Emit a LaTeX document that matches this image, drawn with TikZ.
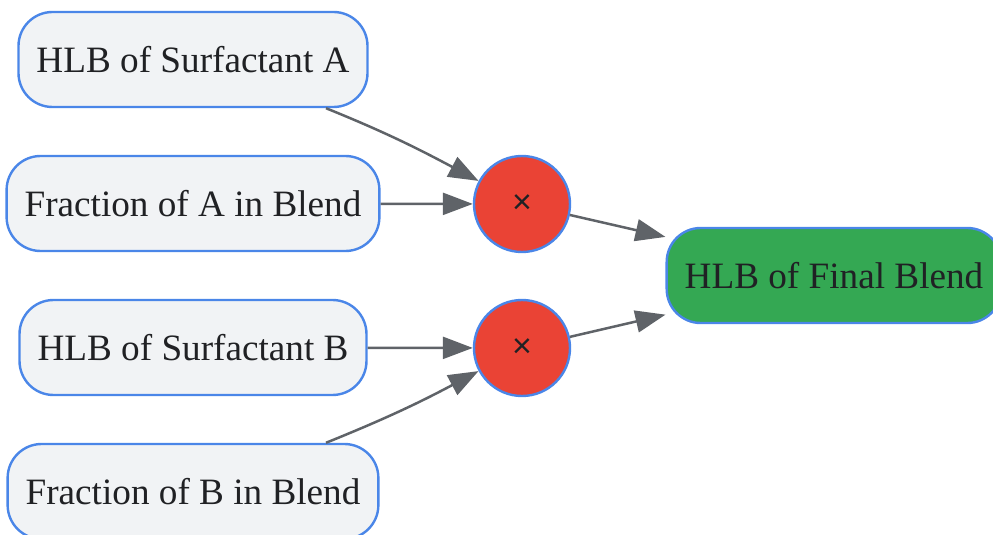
\documentclass[tikz,border=0pt]{standalone}
\usepackage{fontspec}
\setmainfont{Liberation Serif}
\setsansfont{Liberation Sans}
\usetikzlibrary{arrows.meta,positioning}
\definecolor{boxfill}{HTML}{F1F3F5}
\definecolor{boxline}{HTML}{4A86E8}
\definecolor{mulred}{HTML}{EA4335}
\definecolor{finalgreen}{HTML}{34A853}
\definecolor{edgegray}{HTML}{5F6368}
\definecolor{txt}{HTML}{202124}

\begin{document}
\begin{tikzpicture}[x=0.5pt, y=0.5pt,
    every node/.style={font=\fontsize{18.6}{22}\selectfont, text=txt},
    inbox/.style={draw=boxline, line width=1.2pt, fill=boxfill, rounded corners=17pt, minimum height=47.5pt, inner xsep=9pt},
    mul/.style={circle, draw=boxline, line width=1.2pt, fill=mulred, minimum size=48pt, inner sep=0pt},
    outbox/.style={draw=boxline, line width=1.2pt, fill=finalgreen, rounded corners=17pt, minimum height=47.5pt, inner xsep=9pt},
    flow/.style={-{Triangle[length=15pt,width=11pt]}, draw=edgegray, line width=1.25pt}]
  \useasboundingbox (0,0) rectangle (993,-535);
  \node[inbox] (sA) at (193,-59.5) {HLB of Surfactant A};
  \node[inbox] (fA) at (193,-203.5) {Fraction of A in Blend};
  \node[inbox] (sB) at (193,-347.5) {HLB of Surfactant B};
  \node[inbox] (fB) at (193,-491.5) {Fraction of B in Blend};

  \node[mul] (m1) at (522,-204) {\sffamily\fontsize{17}{20}\selectfont ×};
  \node[mul] (m2) at (522,-348) {\sffamily\fontsize{17}{20}\selectfont ×};

  \node[outbox] (final) at (834,-275.5) {HLB of Final Blend};

  \draw[flow] ([xshift=66.5pt]sA.south) to[out=-22,in=152] (m1);
  \draw[flow] (fA) -- (m1);
  \draw[flow] (sB) -- (m2);
  \draw[flow] ([xshift=66.5pt]fB.north) to[out=22,in=-152] (m2);
  \draw[flow] (m1) -- (final);
  \draw[flow] (m2) -- (final);
\end{tikzpicture}
\end{document}
